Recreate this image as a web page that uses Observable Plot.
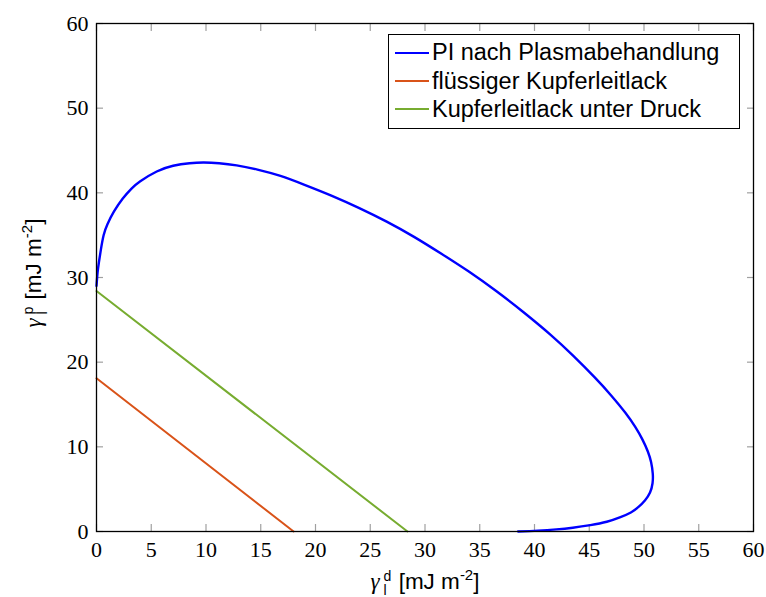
<!DOCTYPE html>
<html>
<head>
<meta charset="utf-8">
<script src="https://cdn.jsdelivr.net/npm/d3@7"></script>
<script src="https://cdn.jsdelivr.net/npm/@observablehq/plot@0.6"></script>
<style>
  html, body { margin: 0; padding: 0; background: #fff; }
  #wrap { position: relative; width: 766px; height: 597px; }
  .lab { position: absolute; font-family: "Liberation Sans", Arial, sans-serif; font-size: 22.5px; color: #000; white-space: nowrap; line-height: 1; }
  .g { font-family: "Liberation Serif", serif; font-style: italic; font-size: 23px; }
  .ss { display: inline-flex; flex-direction: column; vertical-align: middle; font-size: 14px; line-height: 1; margin-left: 4px; margin-right: 1px; }
  .sup { font-size: 15px; vertical-align: 9px; }
  #legend { position: absolute; left: 388px; top: 34px; width: 352px; height: 95px; border: 1px solid #000; background: #fff; box-sizing: border-box; font-family: "Liberation Sans", Arial, sans-serif; font-size: 23.5px; }
  .row { position: absolute; left: 6px; height: 26px; display: flex; align-items: center; }
  .sw { width: 34px; height: 0; border-top-width: 2px; border-top-style: solid; margin-right: 3px; }
</style>
</head>
<body>
<div id="wrap"></div>
<script>
// Series: blue wetting envelope (in drawing order)
const envelopeX = [0.0, 0.1, 0.22, 0.4, 0.65, 1.0, 1.6, 2.4, 3.2, 4.0, 5.5, 7.0, 8.5, 9.8, 11.2, 12.8, 14.7, 16.8, 19.0, 21.5, 24.0, 26.5, 29.0, 31.5, 34.0, 36.5, 39.0, 41.5, 43.5, 45.5, 47.0, 48.3, 49.2, 49.85, 50.35, 50.65, 50.8, 50.78, 50.55, 50.1, 49.5, 48.8, 47.85, 46.6, 45.1, 43.5, 42.0, 40.3, 38.5];
const envelopeY = [29.0, 30.6, 31.8, 33.3, 35.0, 36.3, 37.8, 39.33, 40.5, 41.37, 42.52, 43.2, 43.5, 43.58, 43.5, 43.25, 42.75, 42.0, 40.95, 39.65, 38.2, 36.6, 34.8, 32.8, 30.7, 28.4, 25.9, 23.2, 20.8, 18.2, 16.07, 14.02, 12.35, 10.88, 9.45, 8.17, 6.83, 5.7, 4.6, 3.7, 2.9, 2.25, 1.7, 1.15, 0.75, 0.45, 0.25, 0.1, 0.0];
// Straight lines: endpoints
const liquidX = [0, 18.0];
const liquidY = [18.1, 0];
const pressureX = [0, 28.4];
const pressureY = [28.4, 0];
const xTicks = [0, 5, 10, 15, 20, 25, 30, 35, 40, 45, 50, 55, 60];
const yTicks = [0, 10, 20, 30, 40, 50, 60];
const seriesNames = ["PI nach Plasmabehandlung", "flüssiger Kupferleitlack", "Kupferleitlack unter Druck"];
const seriesColors = ["#0000ff", "#d95319", "#77ac30"];

const envelope = envelopeX.map((x, i) => ({x, y: envelopeY[i]}));
const liquid = liquidX.map((x, i) => ({x, y: liquidY[i]}));
const pressure = pressureX.map((x, i) => ({x, y: pressureY[i]}));

const tickColor = "#a0a0a0";
const chart = Plot.plot({
  width: 766,
  height: 597,
  marginLeft: 96,
  marginRight: 13,
  marginTop: 23,
  marginBottom: 66,
  style: {fontFamily: "'Liberation Serif', serif", fontSize: "22px", color: "#000", background: "#fff"},
  x: {domain: [0, 60], label: null},
  y: {domain: [0, 60], label: null},
  marks: [
    Plot.axisX({ticks: xTicks, tickSize: 0, tickPadding: 10, tickFormat: d => String(d), fontSize: 22}),
    Plot.axisY({ticks: yTicks, tickSize: 0, tickPadding: 8, tickFormat: d => String(d), fontSize: 22}),
    Plot.axisX({ticks: xTicks, anchor: "bottom", tickSize: -7, text: null, stroke: tickColor, strokeWidth: 1.2}),
    Plot.axisX({ticks: xTicks, anchor: "top", tickSize: -7, text: null, stroke: tickColor, strokeWidth: 1.2}),
    Plot.axisY({ticks: yTicks, anchor: "left", tickSize: -7, text: null, stroke: tickColor, strokeWidth: 1.2}),
    Plot.axisY({ticks: yTicks, anchor: "right", tickSize: -7, text: null, stroke: tickColor, strokeWidth: 1.2}),
    Plot.line(liquid, {x: "x", y: "y", stroke: seriesColors[1], strokeWidth: 2}),
    Plot.line(pressure, {x: "x", y: "y", stroke: seriesColors[2], strokeWidth: 2}),
    Plot.line(envelope, {x: "x", y: "y", stroke: seriesColors[0], strokeWidth: 2.4, curve: "natural"}),
    Plot.frame({stroke: "#000", strokeWidth: 1.3})
  ]
});
const wrap = document.getElementById("wrap");
wrap.appendChild(chart);

// Axis labels
const xl = document.createElement("div");
xl.className = "lab";
xl.innerHTML = '<span class="g">γ</span><span class="ss"><span>d</span><span>l</span></span> [mJ m<span class="sup">-2</span>]';
wrap.appendChild(xl);
xl.style.left = (425 - xl.offsetWidth / 2) + "px";
xl.style.top = (582 - xl.offsetHeight / 2) + "px";

const yl = document.createElement("div");
yl.className = "lab";
yl.innerHTML = '<span class="g">γ</span><span class="ss"><span>p</span><span>l</span></span> [mJ m<span class="sup">-2</span>]';
wrap.appendChild(yl);
yl.style.transformOrigin = "center center";
yl.style.transform = "rotate(-90deg)";
yl.style.left = (34 - yl.offsetWidth / 2) + "px";
yl.style.top = (273 - yl.offsetHeight / 2) + "px";

// Legend
const lg = document.createElement("div");
lg.id = "legend";
seriesNames.forEach((n, i) => {
  const r = document.createElement("div");
  r.className = "row";
  r.style.top = (4.7 + i * 28.3) + "px";
  r.innerHTML = `<div class="sw" style="border-top-color:${seriesColors[i]}"></div><span>${n}</span>`;
  lg.appendChild(r);
});
wrap.appendChild(lg);
</script>
</body>
</html>
